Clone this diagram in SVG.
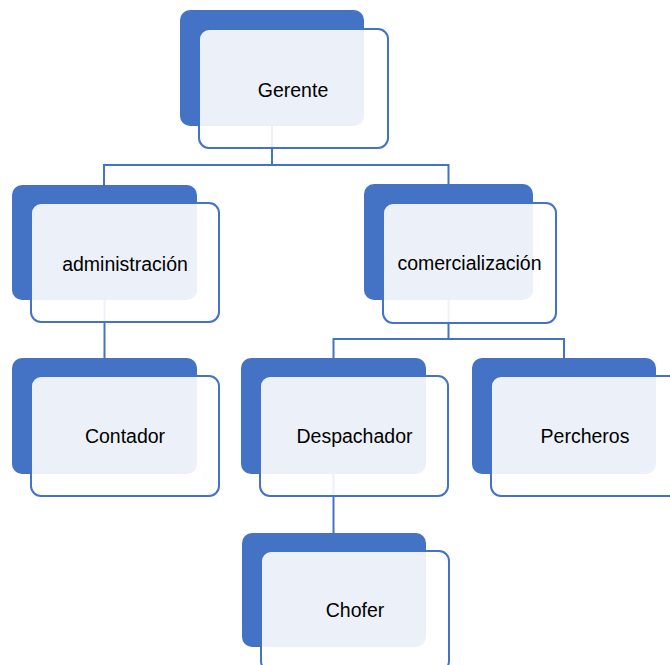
<svg xmlns="http://www.w3.org/2000/svg" width="670" height="665" viewBox="0 0 670 665">
<style>
.back{fill:#4472C4;}
.front{fill:#FFFFFF;fill-opacity:0.9;stroke:#4472C4;stroke-width:2;}
.conn{fill:none;stroke:#4472C4;stroke-width:2;}
.lbl{font-family:"Liberation Sans",Arial,sans-serif;font-size:19.5px;fill:#000000;text-anchor:middle;}
</style>
<rect width="670" height="665" fill="#FFFFFF"/>
<g id="connectors">
<path class="conn" d="M272,126 V165 M104,165 H449 M104,164 V186 M448.5,164 V185"/>
<path class="conn" d="M104.5,300 V359"/>
<path class="conn" d="M448.5,300 V339 M333,339 H565 M333.5,338 V359 M564,338 V359"/>
<path class="conn" d="M333.5,474 V534"/>
</g>
<g id="node-gerente">
<rect class="back" x="180" y="10" width="184" height="116" rx="10"/>
<rect class="front" x="199" y="29" width="189" height="119" rx="10"/>
<text class="lbl" x="293" y="97">Gerente</text>
</g>
<g id="node-administracion">
<rect class="back" x="12" y="185" width="185" height="115" rx="10"/>
<rect class="front" x="31" y="203" width="188" height="119" rx="10"/>
<text class="lbl" x="125" y="271">administración</text>
</g>
<g id="node-comercializacion">
<rect class="back" x="364" y="184" width="169" height="116" rx="10"/>
<rect class="front" x="383" y="203" width="173" height="120" rx="10"/>
<text class="lbl" x="469.5" y="270">comercialización</text>
</g>
<g id="node-contador">
<rect class="back" x="12" y="358" width="185" height="116" rx="10"/>
<rect class="front" x="31" y="376" width="188" height="120" rx="10"/>
<text class="lbl" x="125" y="443">Contador</text>
</g>
<g id="node-despachador">
<rect class="back" x="241" y="358" width="185" height="116" rx="10"/>
<rect class="front" x="260" y="376" width="188" height="120" rx="10"/>
<text class="lbl" x="354.5" y="443">Despachador</text>
</g>
<g id="node-percheros">
<rect class="back" x="472" y="358" width="184" height="116" rx="10"/>
<rect class="front" x="491" y="376" width="188" height="120" rx="10"/>
<text class="lbl" x="585" y="443">Percheros</text>
</g>
<g id="node-chofer">
<rect class="back" x="242" y="533" width="184" height="114" rx="10"/>
<rect class="front" x="261" y="551" width="188" height="120" rx="10"/>
<text class="lbl" x="355" y="617">Chofer</text>
</g>
</svg>
